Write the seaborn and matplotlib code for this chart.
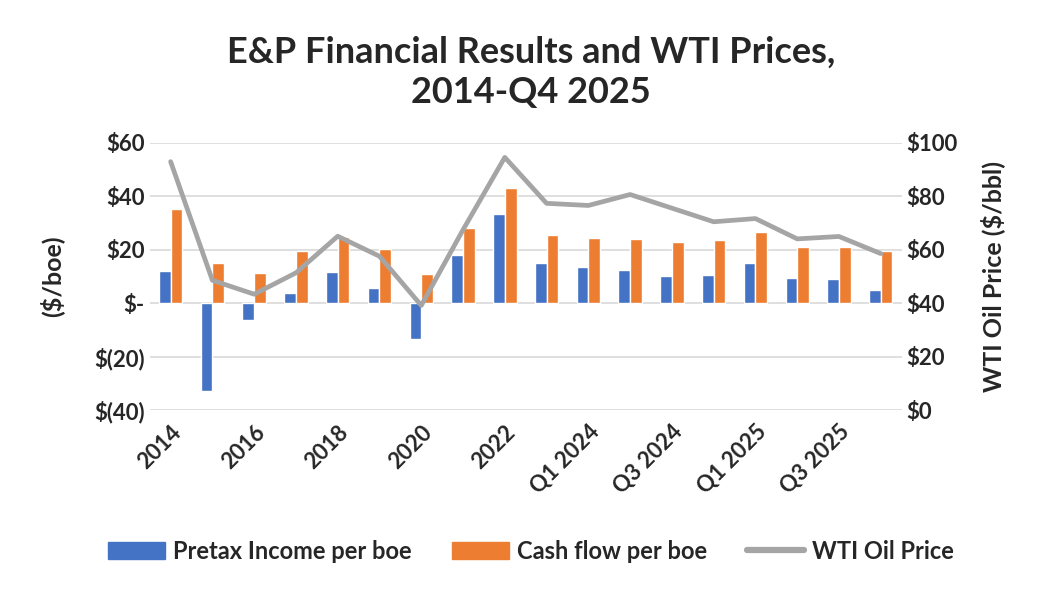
import numpy as np
import pandas as pd
import matplotlib
matplotlib.use('Agg')
import matplotlib.pyplot as plt
from matplotlib.ticker import FuncFormatter
from matplotlib.patches import Patch
from matplotlib.lines import Line2D
import seaborn as sns

periods = ['2014', '2015', '2016', '2017', '2018', '2019', '2020', '2021', '2022', '2023',
           'Q1 2024', 'Q2 2024', 'Q3 2024', 'Q4 2024', 'Q1 2025', 'Q2 2025', 'Q3 2025', 'Q4 2025']
pretax_income = [11.9, -32.7, -6.2, 4.0, 11.6, 5.6, -13.4, 17.9, 33.5, 15.1,
                 13.4, 12.5, 10.4, 10.5, 14.9, 9.5, 9.2, 4.9]
cash_flow = [35.2, 15.0, 11.4, 19.5, 24.7, 20.4, 11.0, 28.2, 43.1, 25.4,
             24.5, 24.2, 22.9, 23.5, 26.5, 21.2, 21.0, 19.6]
wti_price = [93.0, 48.6, 43.4, 51.4, 65.1, 57.6, 39.2, 67.5, 94.6, 77.4,
             76.6, 80.7, 75.6, 70.5, 71.7, 64.1, 65.0, 58.6]

bar_names = ['Pretax Income per boe', 'Cash flow per boe']
line_name = 'WTI Oil Price'
bar_colors = ['#4472C4', '#ED7D31']
line_color = '#A5A5A5'

df = pd.DataFrame({
    'period': periods * 2,
    'value': pretax_income + cash_flow,
    'series': [bar_names[0]] * len(periods) + [bar_names[1]] * len(periods),
})

sns.set_style('white')
plt.rcParams['font.family'] = ['Lato', 'DejaVu Sans']
plt.rcParams['font.weight'] = 'bold'

fig = plt.figure(figsize=(10.62, 5.98), dpi=100)
ax = fig.add_axes([0.141, 0.314, 0.708, 0.447])

sns.barplot(data=df, x='period', y='value', hue='series', order=periods,
            palette=bar_colors, saturation=1, width=0.56, ax=ax, legend=False)

ax2 = ax.twinx()
sns.lineplot(x=np.arange(len(periods)), y=wti_price, ax=ax2, color=line_color, linewidth=3.4)

ax.set_xlim(-0.5, len(periods) - 0.5)
ax.set_ylim(-40, 60)
ax.set_yticks(range(-40, 61, 20))
ax2.set_ylim(0, 100)
ax2.set_yticks(range(0, 101, 20))
ax.yaxis.grid(True, color='#D9D9D9', linewidth=1.2)
ax.set_axisbelow(True)


def left_fmt(v, pos):
    if v == 0:
        return '$-'
    if v < 0:
        return f'$({abs(v):.0f})'
    return f'${v:.0f}'


ax.yaxis.set_major_formatter(FuncFormatter(left_fmt))
ax2.yaxis.set_major_formatter(FuncFormatter(lambda v, p: f'${v:.0f}'))

for a in (ax, ax2):
    for s in a.spines.values():
        s.set_visible(False)
    a.tick_params(length=0, labelsize=16)

ax.set_xticks(range(len(periods)))
ax.set_xticklabels([p if i % 2 == 0 else '' for i, p in enumerate(periods)],
                   rotation=45, ha='right', rotation_mode='anchor', fontsize=16, fontweight='bold')
ax.tick_params(axis='x', pad=8)
ax.set_xlabel('')
ax.set_ylabel('($/boe)', fontsize=18, fontweight='bold', labelpad=22)
ax2.set_ylabel('WTI Oil Price ($/bbl)', fontsize=18, fontweight='bold', labelpad=16)

fig.suptitle('E&P Financial Results and WTI Prices,\n2014-Q4 2025', fontsize=26,
             fontweight='bold', y=0.94, linespacing=1.25)

handles = [Patch(color=bar_colors[0]), Patch(color=bar_colors[1]),
           Line2D([0], [0], color=line_color, linewidth=4.5)]
fig.legend(handles, bar_names + [line_name], loc='center', bbox_to_anchor=(0.5, 0.078),
           ncol=3, frameon=False, fontsize=17, handlelength=2.4, handleheight=0.75,
           columnspacing=1.7, handletextpad=0.35)

fig.savefig('out.png', dpi=100)
